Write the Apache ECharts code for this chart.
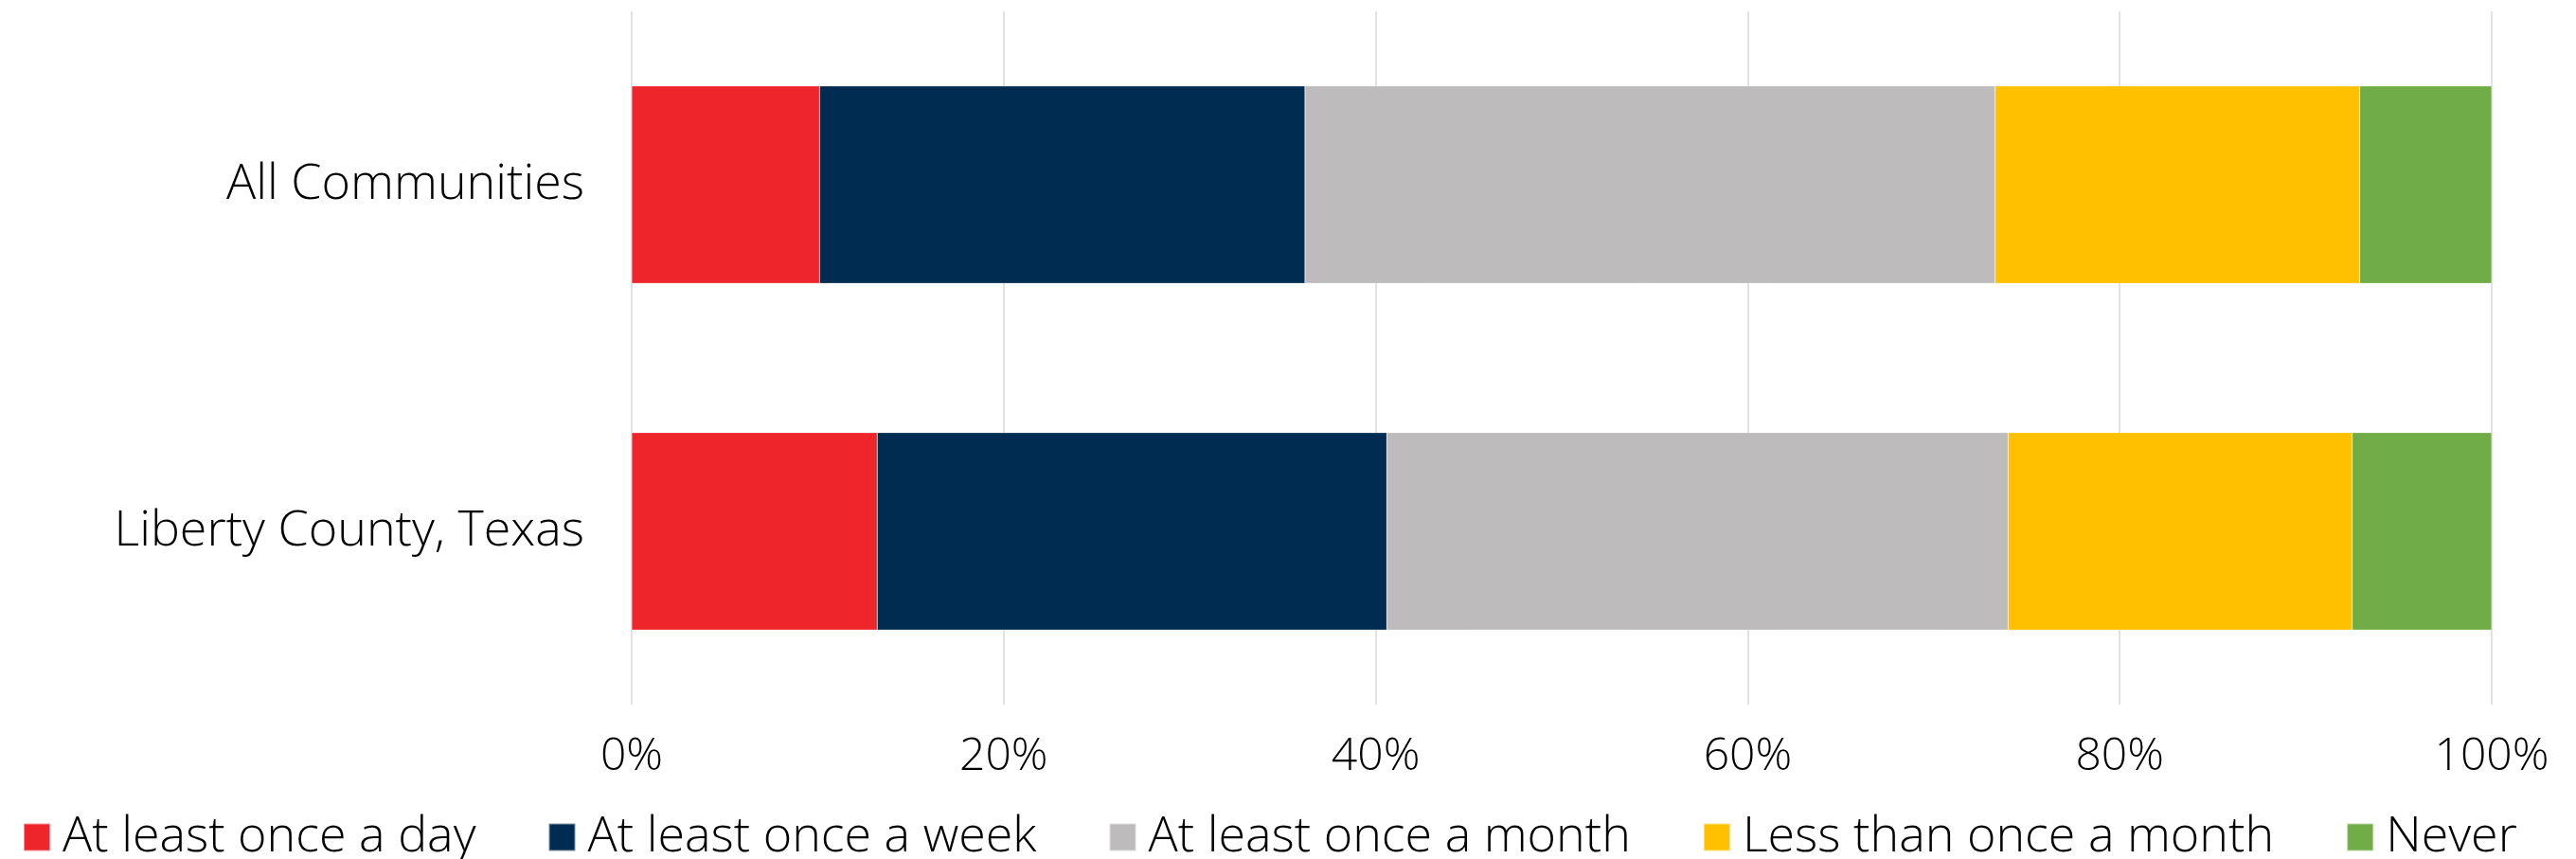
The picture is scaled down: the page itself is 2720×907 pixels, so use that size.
<!DOCTYPE html>
<html>
<head>
<meta charset="utf-8">
<script src="https://cdn.jsdelivr.net/npm/echarts@6/dist/echarts.min.js"></script>
<style>
html,body{margin:0;padding:0;background:#fff;}
#chart{width:2720px;height:907px;}
</style>
</head>
<body>
<div id="chart"></div>
<script>
const categories = ["All Communities", "Liberty County, Texas"];
const seriesNames = ["At least once a day", "At least once a week", "At least once a month", "Less than once a month", "Never"];
const atLeastDaily = [10.1, 13.2];
const atLeastWeekly = [26.1, 27.4];
const atLeastMonthly = [37.1, 33.4];
const lessThanMonthly = [19.6, 18.5];
const never = [7.1, 7.5];
const tickValues = [0, 20, 40, 60, 80, 100];

const colors = ["#EE262C", "#002C51", "#BDBBBC", "#FFC000", "#70AD47"];
const seriesData = [atLeastDaily, atLeastWeekly, atLeastMonthly, lessThanMonthly, never];
const FONT = "Open Sans";

const chart = echarts.init(document.getElementById('chart'), null, {renderer: 'canvas'});
chart.setOption({
  animation: false,
  textStyle: {fontFamily: FONT},
  grid: {left: 667, right: 89, top: 12, bottom: 163, containLabel: false},
  legend: {
    left: 19, top: 853,
    itemWidth: 28, itemHeight: 29, itemGap: 76,
    icon: 'rect',
    textStyle: {fontFamily: FONT, fontWeight: 300, fontSize: 52, color: '#000', padding: [0, 0, 8, 8]},
    data: seriesNames
  },
  xAxis: {
    type: 'value', min: 0, max: 100, interval: 20,
    axisLine: {show: false}, axisTick: {show: false},
    splitLine: {show: true, lineStyle: {color: '#D9D9D9', width: 1.5}},
    axisLabel: {
      fontFamily: FONT, fontWeight: 300, fontSize: 48, color: '#000', margin: 31,
      formatter: v => tickValues.includes(v) ? v + '%' : ''
    }
  },
  yAxis: {
    type: 'category', data: categories, inverse: true,
    axisLine: {show: false}, axisTick: {show: false},
    axisLabel: {fontFamily: FONT, fontWeight: 300, fontSize: 52, color: '#000', margin: 50}
  },
  series: seriesNames.map((name, i) => ({
    name: name, type: 'bar', stack: 'total',
    barCategoryGap: '43%',
    itemStyle: {color: colors[i], borderColor: 'rgba(255,255,255,0.5)', borderWidth: 0.5},
    data: seriesData[i]
  }))
});
</script>
</body>
</html>
